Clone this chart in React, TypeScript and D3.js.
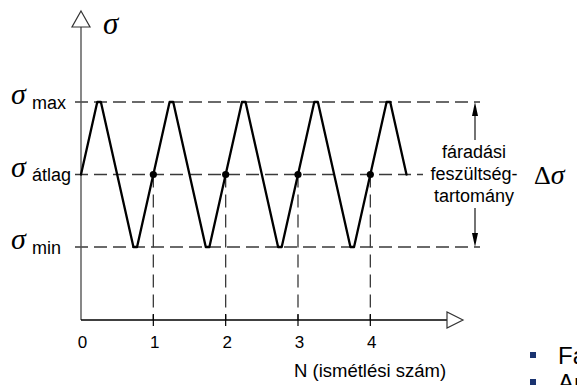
import React from "react";
import * as d3 from "d3";

// Stress levels (normalised): max, mean, min
const levelNames = ["max", "átlag", "min"];
const levelValues = [1, 0, -1];

// Load cycle turning points: N (cycles) and normalised stress
const waveN = [0, 0.225, 0.275, 0.725, 0.775, 1.225, 1.275, 1.725, 1.775, 2.225, 2.275, 2.725, 2.775, 3.225, 3.275, 3.725, 3.775, 4.225, 4.275, 4.5];
const waveS = [0, 1, 1, -1, -1, 1, 1, -1, -1, 1, 1, -1, -1, 1, 1, -1, -1, 1, 1, 0];

// Mean-stress crossings marked with dots
const crossN = [1, 2, 3, 4];
const crossS = [0, 0, 0, 0];

// Axis tick labels
const xTicks = [0, 1, 2, 3, 4];

const rangeLines = ["fáradási", "feszültség-", "tartomány"];
const bulletLines = ["Fáradás", "Amplitúdó"];

const W = 577;
const H = 385;
const sans = "'Liberation Sans', Arial, sans-serif";
const serif = "'Liberation Serif', 'Times New Roman', serif";

export default function App() {
  const x = d3.scaleLinear().domain([0, 5.06]).range([81, 447]);
  const y = d3.scaleLinear().domain([-1, 1]).range([247, 102]);
  const x0 = x(0);
  const yAxis = 320;

  const line = d3
    .line<number>()
    .x((_, i) => x(waveN[i]))
    .y((d) => y(d))
    .curve(d3.curveLinear);

  const levelEnd = [480, 423, 480];

  return (
    <svg
      width={W}
      height={H}
      style={{ position: "absolute", left: 0, top: 0, background: "#fff" }}
    >
      {/* horizontal level lines */}
      {levelValues.map((v, i) => (
        <line
          key={"lv" + i}
          x1={75}
          x2={levelEnd[i]}
          y1={y(v)}
          y2={y(v)}
          stroke="#3a3a3a"
          strokeWidth={1.3}
          strokeDasharray="13 6"
        />
      ))}

      {/* vertical guides at whole cycles */}
      {crossN.map((n, i) => (
        <line
          key={"vg" + i}
          x1={x(n)}
          x2={x(n)}
          y1={y(crossS[i])}
          y2={yAxis}
          stroke="#3a3a3a"
          strokeWidth={1.3}
          strokeDasharray="13 7"
        />
      ))}

      {/* y axis */}
      <line x1={x0} x2={x0} y1={27} y2={yAxis} stroke="#555" strokeWidth={1.4} />
      <path
        d={`M${x0},11 L${x0 + 9},27 L${x0 - 9},27 Z`}
        fill="#fff"
        stroke="#333"
        strokeWidth={1.2}
      />
      <text x={103} y={34} fontFamily={serif} fontStyle="italic" fontSize={31} fill="#000">
        σ
      </text>

      {/* x axis */}
      <line x1={x0} x2={447} y1={yAxis} y2={yAxis} stroke="#000" strokeWidth={1.4} />
      <path
        d={`M463,${yAxis} L447,${yAxis - 8} L447,${yAxis + 8} Z`}
        fill="#fff"
        stroke="#333"
        strokeWidth={1.2}
      />
      {xTicks.map((t) => (
        <g key={"t" + t}>
          {t > 0 && (
            <line x1={x(t)} x2={x(t)} y1={yAxis - 6} y2={yAxis + 6} stroke="#000" strokeWidth={1.2} />
          )}
          <text
            x={x(t) + 1.5}
            y={348}
            textAnchor="middle"
            fontFamily={sans}
            fontSize={17}
            fill="#000"
          >
            {t}
          </text>
        </g>
      ))}
      <text x={294} y={377} fontFamily={sans} fontSize={18.5} fill="#000">
        N (ismétlési szám)
      </text>

      {/* level labels */}
      {levelValues.map((v, i) => (
        <g key={"ll" + i}>
          <text x={11} y={y(v) + 2} fontFamily={serif} fontStyle="italic" fontSize={30} fill="#000">
            σ
          </text>
          <text x={32} y={y(v) + 6.5} fontFamily={sans} fontSize={18} fill="#000">
            {levelNames[i]}
          </text>
        </g>
      ))}

      {/* load history */}
      <path
        d={line(waveS) || ""}
        fill="none"
        stroke="#000"
        strokeWidth={2.3}
        strokeLinejoin="round"
        strokeLinecap="round"
      />
      {crossN.map((n, i) => (
        <circle key={"c" + i} cx={x(n)} cy={y(crossS[i])} r={3.6} fill="#000" />
      ))}

      {/* stress range annotation */}
      <line x1={475} x2={475} y1={y(1) + 12} y2={140} stroke="#000" strokeWidth={1.1} />
      <path d={`M475,${y(1)} L478,${y(1) + 14} L472,${y(1) + 14} Z`} fill="#000" />
      <line x1={475} x2={475} y1={208} y2={y(-1) - 12} stroke="#000" strokeWidth={1.1} />
      <path d={`M475,${y(-1)} L478,${y(-1) - 14} L472,${y(-1) - 14} Z`} fill="#000" />
      {rangeLines.map((s, i) => (
        <text
          key={"r" + i}
          x={474}
          y={158 + i * 22}
          textAnchor="middle"
          fontFamily={sans}
          fontSize={18}
          fill="#000"
        >
          {s}
        </text>
      ))}
      <text x={534} y={184} fontFamily={serif} fontSize={26} fill="#000">
        Δ<tspan fontStyle="italic" fontSize={28}>σ</tspan>
      </text>

      {/* bullet list */}
      {bulletLines.map((s, i) => (
        <g key={"b" + i}>
          <rect x={530} y={352 + i * 27} width={6} height={6} fill="#1a3370" />
          <text x={558} y={364 + i * 27} fontFamily={sans} fontSize={24} fill="#000">
            {s}
          </text>
        </g>
      ))}
    </svg>
  );
}
